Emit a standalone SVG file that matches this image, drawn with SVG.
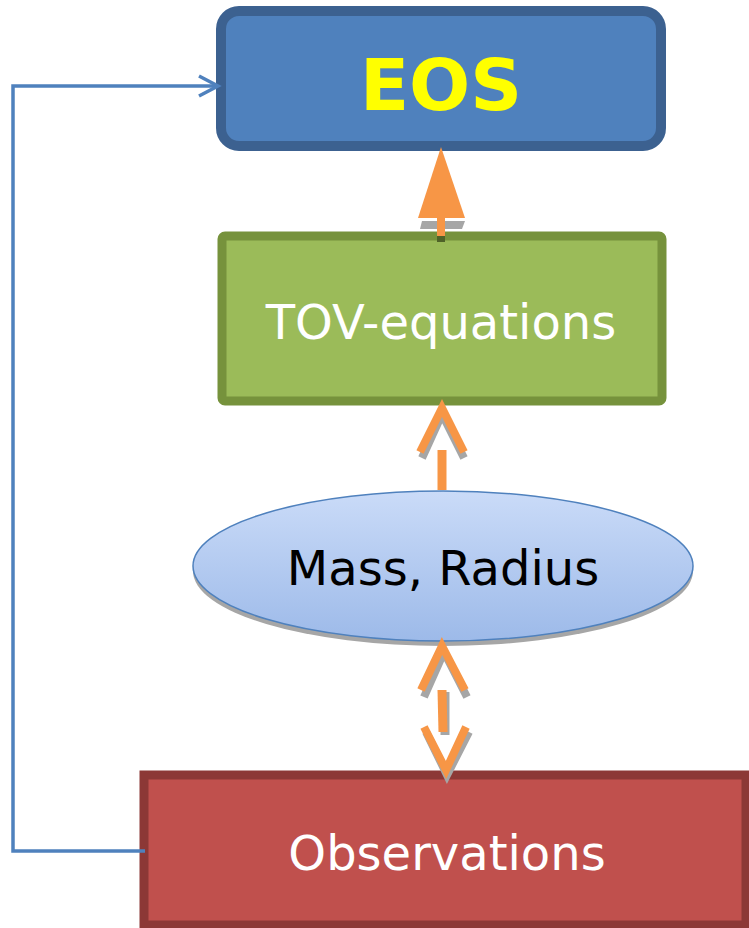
<svg xmlns="http://www.w3.org/2000/svg" width="749" height="928" viewBox="0 0 749 928">
<style>
.lbl{font-family:"DejaVu Sans","Liberation Sans",sans-serif;font-size:48px;text-anchor:middle}
.or{fill:none;stroke:#f79646;stroke-width:8}
.sh{fill:none;stroke:#a6a6a6;stroke-width:8}
</style>
<defs>
<linearGradient id="gb" x1="0" y1="0" x2="0" y2="1">
<stop offset="0" stop-color="#cadbf8"/>
<stop offset="1" stop-color="#9dbae9"/>
</linearGradient>
</defs>
<rect width="749" height="928" fill="#fff"/>
<g id="eos">
<rect x="221" y="11" width="440" height="135" rx="18" fill="#4f81bd" stroke="#3c6190" stroke-width="10"/>
<text x="441" y="110" class="lbl" style="font-size:72px;font-weight:bold" fill="#ffff00">EOS</text>
</g>
<g id="tov">
<rect x="222" y="236" width="440" height="165" rx="3" fill="#9bbb59" stroke="#76923c" stroke-width="9"/>
<text x="441" y="339" class="lbl" fill="#fff">TOV-equations</text>
</g>
<g id="massradius">
<ellipse cx="443" cy="571" rx="250" ry="75" fill="#a6a6a6"/>
<ellipse cx="443" cy="566" rx="250" ry="75" fill="url(#gb)" stroke="#4f81bd" stroke-width="1.5"/>
<text x="443" y="585" class="lbl" fill="#000">Mass, Radius</text>
</g>
<g id="observations">
<rect x="144" y="775" width="602" height="150" fill="#c0504d" stroke="#8c3836" stroke-width="9"/>
<text x="447" y="870" class="lbl" fill="#fff">Observations</text>
</g>
<g id="connectors">
<polygon points="422,221 465,221 462,229 420,229" fill="#a6a6a6"/>
<rect x="437" y="218" width="8" height="24" fill="#f79646"/>
<rect x="437" y="236" width="8" height="6" fill="#4f6228"/>
<polygon points="441,147 418,218 465,218" fill="#f79646"/>
<polyline class="sh" points="422,458 442,414 464,458"/>
<polyline class="or" points="420,452 442,408 464,452"/>
<line x1="442" y1="450" x2="442" y2="490" stroke="#f79646" stroke-width="9"/>
<polyline class="sh" points="424,697 444,652 467,697"/>
<polyline class="or" points="421,690 442,646 465,690"/>
<line x1="445" y1="692" x2="445" y2="735" stroke="#a6a6a6" stroke-width="9"/>
<line x1="442" y1="690" x2="443" y2="732" stroke="#f79646" stroke-width="9"/>
<polyline class="sh" points="426,732 447,775 469,732"/>
<polyline class="or" points="424,727 446,770 466,727"/>
<polyline points="145,851 13,851 13,86 218,86" fill="none" stroke="#4f81bd" stroke-width="3.5"/>
<polyline points="199,76 218,86 199,96" fill="none" stroke="#4f81bd" stroke-width="3.5"/>
</g>
</svg>
